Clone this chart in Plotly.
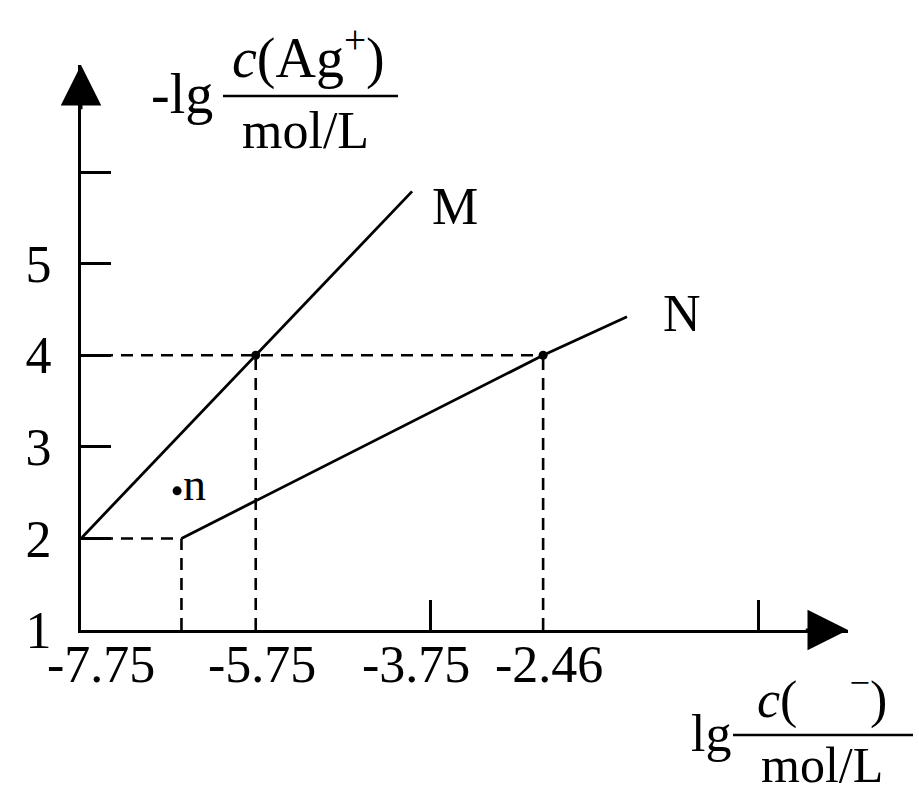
import plotly.graph_objects as go

# line M (slope 1) and line N (slope 1/2)
m_x = [-7.75, -5.75, -3.96]
m_y = [2, 4, 5.79]
n_x = [-6.6, -2.46, -1.5]
n_y = [2, 4, 4.42]

# marked points
dot_x = [-5.75, -2.46]
dot_y = [4, 4]
pt_n_x = [-6.65]
pt_n_y = [2.52]

# tick labels
x_tick_vals = [-7.75, -5.75, -3.75, -2.46]
x_tick_text = ["-7.75", "-5.75", "-3.75", "-2.46"]
y_tick_vals = [1, 2, 3, 4, 5, 6]
y_tick_text = ["1", "2", "3", "4", "5", ""]
x_axis_end = 1.03
y_axis_end = 7.17

W, H = 919, 796
FONT = "Liberation Serif"


def px(x):
    return x / W


def py(y):
    return 1 - y / H


# dashed guide lines, built from the marked points
gx, gy = [], []
for x0, y0 in [(n_x[0], n_y[0]), (dot_x[0], dot_y[0]), (dot_x[1], dot_y[1])]:
    gx += [x0, x0, None]
    gy += [1, y0, None]
for x0, y0 in [(n_x[0], n_y[0]), (dot_x[1], dot_y[1])]:
    gx += [x_tick_vals[0], x0, None]
    gy += [y0, y0, None]

fig = go.Figure()
fig.add_trace(go.Scatter(x=gx, y=gy, mode="lines",
                         line=dict(color="black", width=2.6, dash="12px,8px")))
fig.add_trace(go.Scatter(x=m_x, y=m_y, mode="lines", line=dict(color="black", width=2.8)))
fig.add_trace(go.Scatter(x=n_x, y=n_y, mode="lines", line=dict(color="black", width=2.8)))
fig.add_trace(go.Scatter(x=dot_x + pt_n_x, y=dot_y + pt_n_y, mode="markers",
                         marker=dict(color="black", size=9)))

anns = []
# x tick labels (shifted a bit like the hand drawing)
x_label_dx = [20, 6, -14, 6]
for v, t, dx in zip(x_tick_vals, x_tick_text, x_label_dx):
    anns.append(dict(x=v, y=1, xref="x", yref="y", text=t, showarrow=False,
                     xanchor="center", yanchor="top", xshift=dx, yshift=-4))

# curve / point labels
anns.append(dict(x=-3.47, y=5.63, text="M", showarrow=False, font=dict(size=52)))
anns.append(dict(x=-0.87, y=4.46, text="N", showarrow=False, font=dict(size=52)))
anns.append(dict(x=pt_n_x[0], y=pt_n_y[0], text="n", showarrow=False,
                 xanchor="left", xshift=4, yshift=6, font=dict(size=46)))

# axis arrows
anns.append(dict(x=x_axis_end, y=1, ax=x_axis_end - 0.5, ay=1, axref="x", ayref="y",
                 text="", showarrow=True, arrowhead=2, arrowsize=2.7, arrowwidth=3,
                 arrowcolor="black"))
anns.append(dict(x=x_tick_vals[0], y=y_axis_end, ax=x_tick_vals[0], ay=y_axis_end - 0.5,
                 axref="x", ayref="y", text="", showarrow=True, arrowhead=2,
                 arrowsize=2.7, arrowwidth=3, arrowcolor="black"))

# y axis title: -lg c(Ag+)/(mol/L)
anns += [
    dict(x=px(215), y=py(94), xref="paper", yref="paper", text="-lg",
         showarrow=False, xanchor="right", yanchor="middle", font=dict(size=56)),
    dict(x=px(308), y=py(92), xref="paper", yref="paper", text="<i>c</i>(Ag<sup>+</sup>)",
         showarrow=False, xanchor="center", yanchor="bottom", font=dict(size=56)),
    dict(x=px(305), y=py(100), xref="paper", yref="paper", text="mol/L",
         showarrow=False, xanchor="center", yanchor="top"),
    # x axis title: lg c( -)/(mol/L)
    dict(x=px(733), y=py(733), xref="paper", yref="paper", text="lg",
         showarrow=False, xanchor="right", yanchor="middle"),
    dict(x=px(822), y=py(731), xref="paper", yref="paper",
         text="<i>c</i>(\u00a0\u00a0\u00a0\u00a0<sup>\u2212</sup>)",
         showarrow=False, xanchor="center", yanchor="bottom"),
    dict(x=px(822), y=py(795), xref="paper", yref="paper", text="mol/L",
         showarrow=False, xanchor="center", yanchor="bottom", font=dict(size=50)),
]

shapes = [
    dict(type="line", xref="paper", yref="paper", x0=px(223), x1=px(398), y0=py(96), y1=py(96),
         line=dict(color="black", width=2.5)),
    dict(type="line", xref="paper", yref="paper", x0=px(733), x1=px(913), y0=py(735), y1=py(735),
         line=dict(color="black", width=2.5)),
]

fig.update_layout(
    width=W, height=H,
    margin=dict(l=0, r=0, t=0, b=0, autoexpand=False),
    paper_bgcolor="white", plot_bgcolor="white",
    showlegend=False,
    font=dict(family=FONT, size=52, color="black"),
    annotations=anns,
    shapes=shapes,
    xaxis=dict(domain=[px(81), px(848)], range=[x_tick_vals[0], x_axis_end], automargin=False,
               showgrid=False, zeroline=False, showline=True, linecolor="black", linewidth=3,
               ticks="inside", ticklen=30, tickwidth=2.6, tickcolor="black",
               tickvals=[-3.75, 0], showticklabels=False),
    yaxis=dict(domain=[py(630), py(65)], range=[1, y_axis_end], automargin=False,
               showgrid=False, zeroline=False, showline=True, linecolor="black", linewidth=3,
               ticks="inside", ticklen=30, tickwidth=2.6, tickcolor="black",
               tickvals=y_tick_vals, ticktext=y_tick_text, ticklabelstandoff=16),
)

# drop the default body margin so the figure sits at the page corner
fix_js = "document.body.style.margin='0';document.body.style.overflow='hidden';"
fig.write_html("out.html", post_script=fix_js, config={"displayModeBar": False})
